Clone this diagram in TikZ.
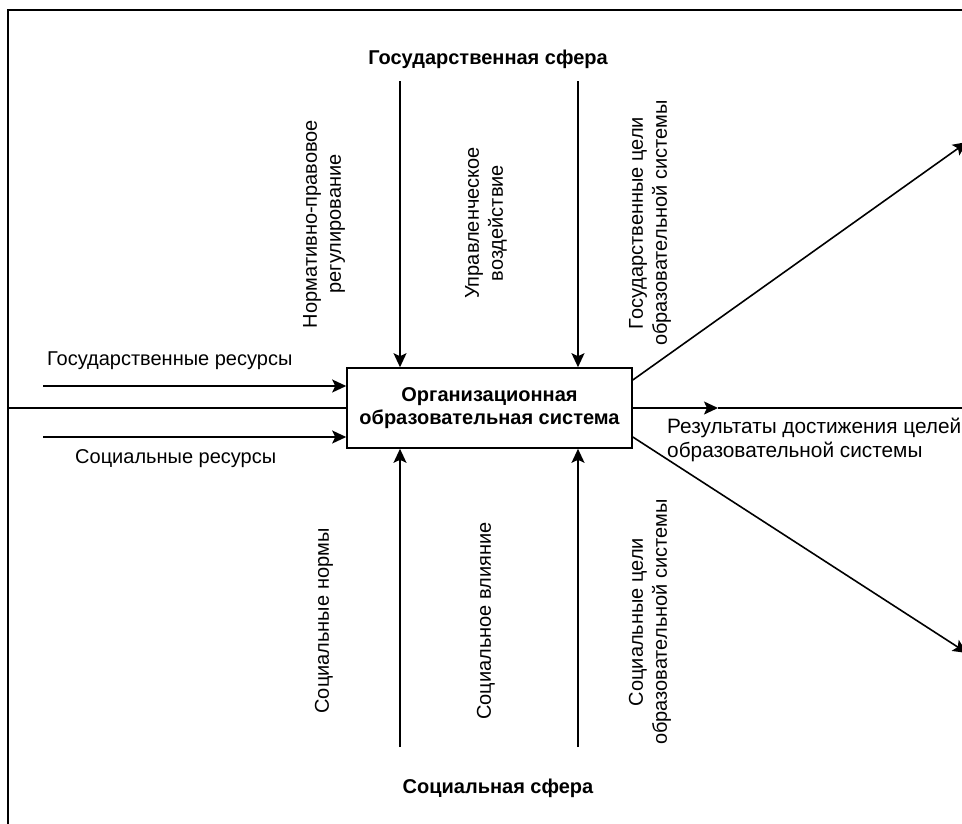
\documentclass[tikz,border=0pt]{standalone}
\usepackage{fontspec}
\setmainfont{Liberation Sans}
\usetikzlibrary{arrows.meta,calc}
\begin{document}
\begin{tikzpicture}[x=1pt,y=-1pt,
  lbl/.style={font=\fontsize{20}{24}\selectfont, inner sep=0pt},
  vlbl/.style={lbl, rotate=90, align=center},
  ttl/.style={font=\fontsize{20}{24}\selectfont\bfseries, inner sep=0pt},
  conn/.style={line width=1.6pt},
  arr/.style={conn, -{Stealth[length=14pt,width=13pt,inset=3pt]}},
  frame/.style={line width=2pt}]
\useasboundingbox (0,0) rectangle (962,823);
\clip (0,0) rectangle (962,823);

% frame
\coordinate (fTL) at (8,10);
\coordinate (fBL) at (8,830);
\coordinate (fTR) at (970,10);
\draw[frame] (fBL) -- (fTL) -- (fTR);

% central box
\node[draw, line width=1.6pt, minimum width=285pt, minimum height=80pt, inner sep=0pt,
      font=\fontsize{20}{23}\selectfont\bfseries, align=center] (sys) at (489.5,408)
  {Организационная\\образовательная система};

% titles
\node[ttl, anchor=base] (gos) at (488,64) {Государственная сфера};
\node[ttl, anchor=base] (soc) at (498,793) {Социальная сфера};

% top arrows
\coordinate (t1) at (400,81);
\coordinate (t2) at (578,81);
\draw[arr] (t1) -- (t1 |- sys.north);
\draw[arr] (t2) -- (t2 |- sys.north);

% bottom arrows
\coordinate (b1) at (400,747);
\coordinate (b2) at (578,747);
\draw[arr] (b1) -- (b1 |- sys.south);
\draw[arr] (b2) -- (b2 |- sys.south);

% left arrows
\coordinate (l1) at (43,386);
\coordinate (l2) at (43,437);
\coordinate (l0) at (8,408);
\draw[arr] (l1) -- (l1 -| sys.west);
\draw[arr] (l2) -- (l2 -| sys.west);
\draw[conn] (l0) -- (sys.west);

% right output
\coordinate (o1) at (718,408);
\coordinate (oR) at (962,408);
\draw[arr] (sys.east) -- (o1);
\draw[conn] (o1) -- (oR);

% diagonals
\coordinate (dU) at ($(sys.east)+(0,-28)$);
\coordinate (dD) at ($(sys.east)+(0,29)$);
\coordinate (eU) at (967,142);
\coordinate (eD) at (967,653);
\draw[arr] (dU) -- (eU);
\draw[arr] (dD) -- (eD);

% left labels
\node[lbl, anchor=base west] (gr) at (47,365) {Государственные ресурсы};
\node[lbl, anchor=base west] (sr) at (75,463) {Социальные ресурсы};

% right label
\node[lbl, anchor=north west, align=left, font=\fontsize{20.8}{24}\selectfont] (res) at (667,418)
  {Результаты достижения целей\\образовательной системы};

% vertical labels
\node[vlbl] (v1) at (324,224) {Нормативно-правовое\\регулирование};
\node[vlbl] (v2) at (486,223) {Управленческое\\воздействие};
\node[vlbl] (v3) at (650,223) {Государственные цели\\образовательной системы};
\node[vlbl] (v4) at (324,621) {Социальные нормы};
\node[vlbl] (v5) at (486,621) {Социальное влияние};
\node[vlbl] (v6) at (650,622) {Социальные цели\\образовательной системы};
\end{tikzpicture}
\end{document}
